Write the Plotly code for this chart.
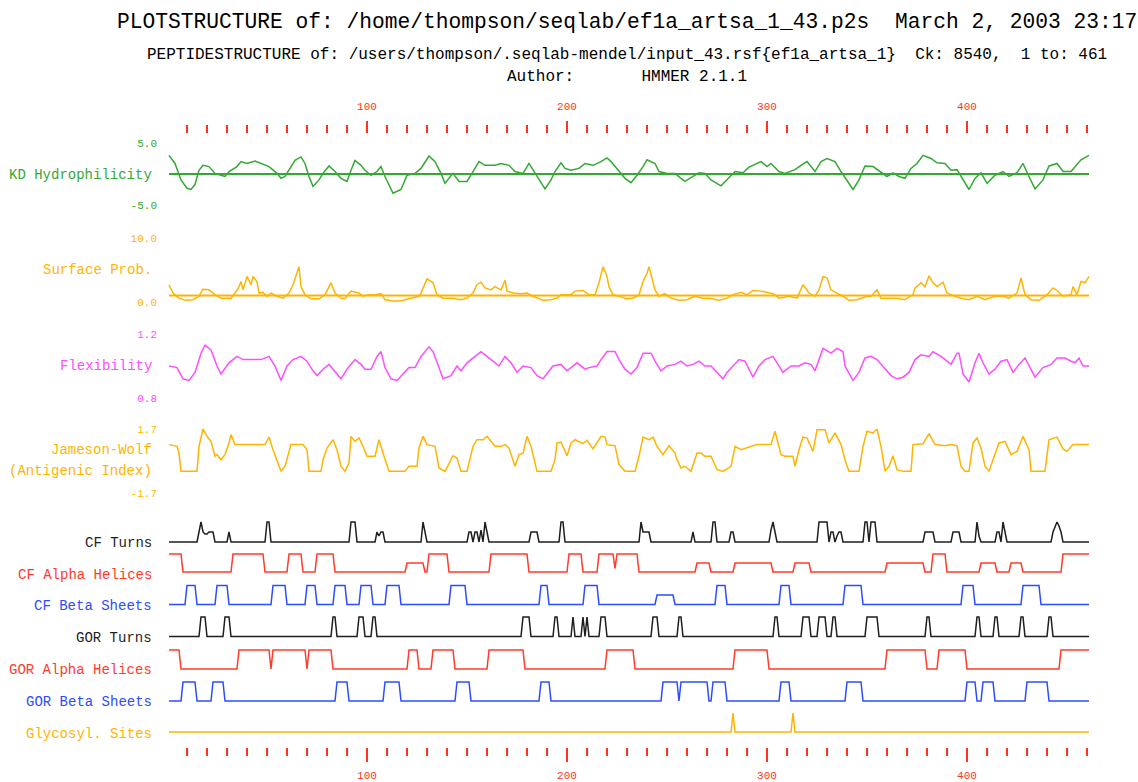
import plotly.graph_objects as go

W, H = 1138, 782
N_RES = 461

# ---------------- data ----------------
kd_res = [1, 4, 7, 10, 12, 14, 16, 18, 21, 24, 27, 29, 31, 35, 37, 40, 44, 47, 51, 55, 57, 59, 62, 64, 67, 69, 71, 73,
          76, 78, 81, 84, 87, 90, 92, 94, 97, 99, 102, 105, 107, 109, 113, 117, 120, 124, 127, 131, 134, 137, 139, 143,
          146, 150, 153, 156, 159, 164, 167, 171, 174, 178, 181, 184, 187, 189, 192, 194, 197, 199, 202, 206, 209, 213,
          217, 220, 222, 226, 229, 232, 235, 238, 240, 244, 246, 250, 254, 257, 259, 263, 266, 269, 272, 277, 280, 284,
          288, 291, 297, 300, 302, 306, 309, 314, 317, 320, 324, 327, 330, 334, 337, 340, 343, 346, 349, 353, 357, 360,
          363, 366, 369, 372, 375, 378, 382, 385, 389, 392, 395, 397, 401, 404, 407, 410, 414, 418, 421, 425, 428, 431,
          434, 438, 441, 445, 448, 452, 454, 457, 461]
kd_val = [3.0, 1.7, -0.95, -2.3, -2.5, -1.7, 0.6, 1.4, 1.2, 0.1, -0.2, -0.4, 0.4, 1.2, 2.0, 1.7, 2.1, 1.7, 1.2, 0.1,
          -0.7, -0.4, 1.2, 2.2, 2.75, 1.7, -0.4, -2.0, -0.95, 0.1, 1.3, 0.4, -0.7, -1.2, 0.6, 2.2, 1.4, 0.6, -0.2, 0.4,
          1.2, -0.4, -3.1, -2.5, -0.2, 0.1, 0.9, 2.9, 2.0, 0.1, -1.5, 0.1, -1.2, -1.2, 0.4, 2.0, 1.4, 1.4, 1.7, 1.4, 0.4,
          0.1, 1.7, 0.1, -1.5, -2.4, -0.95, 0.4, 1.8, 0.9, 0.6, 0.9, 1.7, 1.4, 2.0, 2.6, 2.0, 0.4, -0.7, -1.4, -0.2, 1.2,
          2.3, 1.7, 0.4, 0.1, 0.1, -0.7, -1.2, -0.4, 0.2, 0.1, -0.95, -1.9, -0.95, 0.4, 0.2, 1.1, 2.0, 1.2, 1.7, 0.4,
          0.1, 0.7, 1.4, 2.0, 0.4, 2.0, 2.5, 2.0, 0.4, -0.95, -2.5, -0.95, 1.3, 1.2, 0.2, -0.4, 0.2, -0.4, -0.7, 0.9,
          1.7, 3.0, 2.5, 1.8, 1.7, 0.6, 0.7, -0.4, -2.5, -0.7, 0.2, -1.5, -0.2, 0.4, -0.4, 0.2, 1.7, -0.4, -2.4, -0.95,
          1.3, 1.7, 0.4, 0.4, 1.2, 2.3, 3.0]

surf_res = [1, 3, 6, 9, 13, 16, 18, 21, 24, 27, 32, 34, 36, 37, 38, 40, 42, 43, 45, 46, 48, 50, 52, 55, 58, 61, 63, 64,
            66, 67, 69, 72, 76, 79, 81, 82, 84, 87, 89, 92, 96, 98, 101, 104, 107, 109, 114, 118, 122, 126, 127, 130,
            133, 135, 138, 143, 147, 150, 153, 155, 157, 159, 162, 164, 167, 169, 170, 173, 177, 180, 183, 186, 188,
            192, 195, 197, 202, 204, 208, 211, 214, 216, 218, 220, 221, 223, 226, 230, 233, 236, 238, 240, 241, 243,
            244, 246, 249, 252, 256, 260, 264, 268, 271, 276, 280, 283, 287, 290, 293, 297, 303, 306, 311, 315, 318,
            321, 324, 326, 328, 330, 332, 335, 338, 341, 345, 350, 352, 355, 357, 362, 365, 369, 373, 374, 377, 379,
            381, 383, 385, 388, 390, 394, 397, 401, 405, 409, 414, 418, 421, 425, 427, 429, 432, 436, 440, 443, 445,
            448, 452, 453, 455, 457, 459, 461]
surf_val = [2.7, 1.4, 0.6, 0.26, 0.36, 0.9, 2.0, 1.9, 1.15, 0.6, 0.6, 1.4, 2.4, 3.2, 1.9, 4.0, 2.7, 4.0, 3.2, 1.4, 1.5,
            0.9, 1.4, 0.9, 0.6, 1.4, 2.7, 3.75, 5.5, 2.4, 1.15, 0.5, 0.5, 1.15, 2.4, 3.0, 1.4, 0.6, 0.5, 1.7, 1.4, 0.9,
            1.15, 1.15, 1.3, 0.36, 0.1, 0.26, 0.6, 0.9, 1.4, 3.6, 3.0, 1.15, 0.6, 0.6, 0.36, 0.6, 1.4, 2.7, 3.1, 2.2,
            1.9, 2.4, 1.9, 3.4, 1.7, 1.4, 1.3, 1.4, 0.9, 0.5, 0.26, 0.36, 0.6, 1.15, 1.15, 1.7, 1.8, 1.15, 1.15, 3.0,
            5.5, 4.0, 2.4, 1.15, 0.9, 0.5, 0.6, 1.15, 3.2, 4.5, 5.5, 3.2, 1.9, 0.9, 1.3, 0.6, 0.26, 0.36, 0.9, 0.6, 0.6,
            0.26, 0.6, 1.15, 1.5, 1.15, 1.8, 1.7, 1.3, 0.6, 0.9, 0.6, 2.7, 1.4, 0.9, 1.9, 4.0, 3.75, 1.9, 1.4, 0.9,
            0.26, 0.36, 0.9, 0.9, 1.9, 0.6, 0.6, 0.6, 0.36, 1.15, 2.2, 3.0, 2.4, 4.1, 3.0, 2.4, 3.1, 1.4, 0.9, 0.6,
            0.36, 0.9, 0.36, 0.9, 0.9, 0.6, 1.4, 3.75, 1.15, 0.36, 0.26, 1.15, 2.2, 1.8, 0.9, 1.15, 2.4, 1.15, 3.2,
            3.0, 4.0]

flex_res = [1, 5, 8, 11, 14, 17, 19, 22, 25, 27, 31, 35, 38, 41, 45, 47, 51, 54, 57, 60, 63, 67, 70, 73, 75, 78, 81, 83,
            87, 90, 94, 97, 99, 102, 105, 107, 109, 112, 115, 118, 121, 124, 127, 131, 133, 136, 138, 142, 145, 147,
            150, 154, 157, 160, 163, 166, 169, 172, 175, 178, 182, 185, 188, 190, 193, 197, 200, 205, 209, 211, 215,
            217, 220, 224, 226, 229, 232, 235, 238, 242, 244, 247, 250, 254, 257, 260, 263, 266, 269, 272, 275, 278,
            280, 283, 286, 289, 291, 293, 296, 299, 303, 305, 308, 312, 316, 319, 322, 324, 326, 328, 332, 335, 338,
            339, 343, 346, 349, 352, 355, 358, 362, 365, 368, 371, 374, 377, 381, 383, 387, 392, 395, 396, 398, 401,
            404, 406, 408, 411, 414, 417, 420, 423, 426, 429, 432, 434, 438, 442, 445, 449, 452, 454, 456, 458, 461]
flex_val = [1.0, 0.99, 0.92, 0.91, 0.96, 1.08, 1.13, 1.10, 1.0, 0.95, 1.02, 1.06, 1.04, 1.04, 1.04, 1.04, 1.06, 1.0,
            0.91, 1.0, 1.04, 1.06, 1.03, 0.97, 0.94, 0.98, 1.01, 0.98, 0.92, 0.98, 1.04, 1.01, 0.98, 0.98, 1.06, 1.09,
            0.99, 0.92, 0.91, 0.95, 0.99, 0.99, 1.06, 1.12, 1.09, 0.99, 0.92, 0.94, 1.0, 0.97, 1.02, 1.06, 1.09, 1.06,
            1.03, 1.0, 1.06, 1.02, 0.96, 1.0, 0.99, 0.94, 0.92, 0.95, 1.0, 1.01, 0.97, 1.02, 0.98, 0.99, 1.0, 1.04,
            1.09, 1.09, 1.04, 0.98, 0.95, 0.99, 1.08, 1.08, 1.03, 0.97, 1.0, 1.01, 1.03, 1.0, 1.01, 1.03, 1.0, 1.0,
            0.96, 0.92, 0.96, 1.0, 1.04, 1.03, 0.98, 0.93, 1.0, 1.04, 1.06, 1.02, 0.96, 1.0, 1.0, 1.02, 1.01, 0.97,
            1.04, 1.11, 1.08, 1.11, 1.09, 1.0, 0.91, 0.96, 1.05, 1.06, 1.04, 1.0, 0.94, 0.92, 0.93, 0.96, 1.04, 1.07,
            1.06, 1.09, 1.06, 1.01, 1.08, 1.08, 0.95, 0.9, 1.02, 1.08, 1.02, 0.95, 0.98, 1.03, 1.04, 0.96, 1.01, 1.05,
            0.98, 0.93, 0.99, 1.01, 1.05, 1.05, 1.03, 1.02, 1.05, 1.0, 1.0]

jw_res = [1, 5, 6, 7, 15, 16, 18, 20, 22, 24, 25, 27, 29, 31, 32, 34, 49, 51, 53, 56, 57, 59, 61, 62, 68, 70, 71, 77,
          78, 80, 83, 85, 87, 89, 91, 92, 94, 96, 98, 100, 104, 106, 108, 111, 119, 121, 125, 126, 128, 130, 134, 136,
          139, 141, 143, 145, 147, 150, 153, 155, 158, 160, 164, 167, 169, 171, 174, 176, 178, 180, 182, 185, 192,
          194, 195, 197, 200, 202, 204, 208, 210, 213, 217, 219, 220, 224, 226, 229, 234, 236, 238, 241, 243, 245,
          248, 251, 254, 255, 257, 259, 262, 265, 267, 269, 272, 275, 278, 282, 284, 287, 290, 295, 302, 304, 307,
          309, 313, 314, 316, 318, 320, 323, 325, 329, 331, 334, 337, 339, 341, 346, 348, 350, 353, 355, 357, 359,
          361, 363, 365, 368, 372, 373, 378, 381, 384, 389, 392, 395, 397, 399, 401, 403, 405, 407, 409, 411, 413,
          416, 419, 422, 425, 428, 431, 432, 439, 441, 445, 448, 450, 453, 461]
jw_val = [0.87, 0.78, 0.42, -0.55, -0.55, 0.78, 1.7, 1.31, 1.04, 0.25, 0.34, 0.07, 0.34, 0.96, 1.4, 0.87, 0.87, 1.27,
          0.6, -0.28, -0.55, -0.28, 0.42, 0.87, 0.87, 0.6, -0.55, -0.55, 0.07, 0.69, 1.13, 0.6, -0.28, -0.55, -0.1,
          1.31, 1.04, 1.22, 0.78, 0.25, 0.25, 1.13, 0.42, -0.55, -0.55, -0.28, -0.28, 0.69, 1.31, 0.87, 0.78, -0.37,
          -0.55, -0.1, 0.28, 0.16, -0.55, -0.55, 0.78, 1.13, 1.13, 1.31, 0.78, 0.78, 0.87, 0.69, -0.28, 0.34, 0.42,
          1.31, 0.78, -0.55, -0.55, 0.07, 0.96, 1.0, 0.28, 0.96, 1.13, 0.92, 1.1, 0.64, 1.31, 1.27, 0.87, 0.81, -0.19,
          -0.55, -0.55, 0.25, 1.27, 1.13, 1.27, 0.78, 0.34, 0.81, 0.42, 0.07, -0.37, -0.28, -0.55, 0.42, 0.42, 0.25,
          0.25, -0.46, -0.55, -0.28, 0.78, 0.6, 0.69, 0.87, 0.87, 1.58, 0.34, 0.25, 0.25, -0.28, 0.6, 1.27, 1.22, 0.51,
          1.66, 1.66, 0.96, 1.49, 0.87, 0.07, -0.55, -0.55, 0.78, 1.58, 1.49, 1.7, 0.78, -0.55, -0.28, 0.28, -0.46,
          -0.55, -0.55, 0.87, 0.92, 1.45, 0.87, 0.81, 0.87, 0.81, -0.28, -0.55, -0.55, 0.96, 1.22, 0.69, -0.28, -0.55,
          0.07, 0.96, 1.04, 0.34, 0.51, 1.31, 0.6, -0.55, -0.55, 1.13, 1.27, 0.64, 0.51, 0.87, 0.87]

# run-length segments (start residue, end residue, level 0..1)
cf_turns = [(16, 16, 0.5), (17, 17, 1), (18, 18, 0.5), (19, 20, 0.4), (21, 23, 0.5), (31, 31, 0.5), (50, 51, 1),
            (92, 94, 1), (105, 105, 0.5), (106, 106, 0.3), (107, 108, 0.5), (128, 128, 1), (129, 129, 0.5),
            (151, 152, 0.5), (154, 155, 0.5), (157, 157, 0.6), (159, 159, 1), (160, 160, 0.5), (182, 185, 0.5),
            (197, 198, 1), (237, 237, 1), (238, 241, 0.5), (263, 263, 0.5), (273, 274, 1), (282, 283, 0.5),
            (302, 302, 0.6), (303, 303, 1), (304, 304, 0.5), (326, 330, 1), (332, 333, 0.5), (335, 335, 0.3),
            (336, 337, 0.5), (349, 350, 1), (352, 354, 1), (379, 383, 0.5), (393, 396, 0.5), (405, 405, 1),
            (406, 406, 0.3), (415, 416, 0.5), (418, 418, 1), (419, 419, 0.5), (443, 443, 0.5), (444, 444, 0.8),
            (445, 445, 1), (446, 446, 0.8), (447, 447, 0.5)]
cf_alpha = [(1, 7, 1), (33, 48, 1), (61, 67, 1), (75, 83, 1), (120, 128, 0.5), (131, 140, 1), (162, 180, 1),
            (201, 207, 1), (216, 223, 1), (224, 224, 0.2), (225, 235, 1), (265, 271, 0.5), (284, 302, 0.5),
            (314, 321, 0.5), (360, 378, 0.5), (383, 389, 1), (407, 414, 0.5), (422, 427, 0.5), (448, 461, 1)]
cf_beta = [(10, 14, 1), (25, 30, 1), (53, 59, 1), (70, 74, 1), (84, 89, 1), (97, 102, 1), (110, 116, 1),
           (142, 149, 1), (187, 190, 1), (209, 215, 1), (245, 253, 0.5), (275, 279, 1), (307, 311, 1), (339, 347, 1),
           (398, 403, 1), (428, 436, 1)]
gor_turns = [(17, 19, 1), (29, 31, 1), (83, 84, 1), (96, 98, 1), (103, 104, 1), (178, 181, 1), (194, 195, 1),
             (203, 203, 1), (208, 208, 1), (210, 210, 1), (217, 219, 1), (243, 245, 1), (256, 257, 1), (304, 305, 1),
             (318, 321, 1), (326, 329, 1), (333, 334, 1), (350, 355, 1), (380, 381, 1), (405, 406, 1), (414, 415, 1),
             (427, 428, 1), (441, 442, 1)]
gor_alpha = [(1, 6, 1), (36, 51, 1), (53, 69, 1), (71, 82, 1), (121, 125, 1), (133, 143, 1), (161, 178, 1),
             (220, 233, 1), (284, 300, 1), (360, 379, 1), (386, 399, 1), (447, 461, 1)]
gor_beta = [(8, 14, 1), (23, 28, 1), (85, 90, 1), (109, 116, 1), (145, 151, 1), (187, 191, 1), (248, 255, 1),
            (257, 270, 1), (273, 279, 1), (307, 311, 1), (340, 347, 1), (400, 404, 1), (408, 413, 1), (430, 440, 1)]
glyco_sites = [283, 313]

kd_baseline = 0.0
surface_threshold = 1.0

ruler_major = [100, 200, 300, 400]
ruler_minor = [10, 20, 30, 40, 50, 60, 70, 80, 90, 110, 120, 130, 140, 150, 160, 170, 180, 190, 210, 220, 230, 240,
               250, 260, 270, 280, 290, 310, 320, 330, 340, 350, 360, 370, 380, 390, 410, 420, 430, 440, 450, 460]

# ---------------- styling ----------------
GREEN = "#33a833"
ORANGE = "#ffb400"
MAGENTA = "#ff4dff"
RED = "#ff3b2b"
BLUE = "#2b4dff"
BLACK = "#1e1e1e"
RULER = "#ff3322"
MONO = "Liberation Mono"


def expand(segments):
    lv = [0.0] * N_RES
    for a, b, h in segments:
        for r in range(a, b + 1):
            lv[r - 1] = h
    return list(range(1, N_RES + 1)), lv


def axis_map(v_top, px_top, v_bot, px_bot, pad=6):
    scale = (px_bot - px_top) / (v_top - v_bot)
    rng = [v_bot - pad / scale, v_top + pad / scale]
    dom = [1 - (px_bot + pad) / H, 1 - (px_top - pad) / H]
    return dom, rng


def py(px):
    return 1 - px / H


fig = go.Figure()
layout = dict(width=W, height=H, margin=dict(l=0, r=0, t=0, b=0), paper_bgcolor="white",
              plot_bgcolor="rgba(0,0,0,0)", showlegend=False, hovermode=False)

# continuous tracks
tracks = [
    ("y", kd_res, kd_val, GREEN, 5.0, 143, -5.0, 205, "5.0", "-5.0"),
    ("y2", surf_res, surf_val, ORANGE, 10.0, 238, 0.0, 302, "10.0", "0.0"),
    ("y3", flex_res, flex_val, MAGENTA, 1.2, 334, 0.8, 398, "1.2", "0.8"),
    ("y4", jw_res, jw_val, ORANGE, 1.7, 429, -1.7, 493, "1.7", "-1.7"),
]
for name, xs, ys, col, vt, pt, vb, pb, lt, lb in tracks:
    dom, rng = axis_map(vt, pt, vb, pb)
    key = "yaxis" if name == "y" else "yaxis" + name[1:]
    layout[key] = dict(domain=dom, range=rng, anchor="free", position=157 / W, showgrid=False, zeroline=False,
                       showline=False, ticks="", tickvals=[vt, vb], ticktext=[lt, lb],
                       tickfont=dict(family=MONO, size=11, color=col))
    fig.add_trace(go.Scatter(x=xs, y=ys, mode="lines", line=dict(color=col, width=1.5), yaxis=name, xaxis="x"))

fig.add_trace(go.Scatter(x=[1, N_RES], y=[kd_baseline, kd_baseline], mode="lines",
                         line=dict(color=GREEN, width=2), yaxis="y", xaxis="x"))
fig.add_trace(go.Scatter(x=[1, N_RES], y=[surface_threshold, surface_threshold], mode="lines",
                         line=dict(color=ORANGE, width=2), yaxis="y2", xaxis="x"))

# binary tracks
glyco_segments = [(s, s, 1) for s in glyco_sites]
binary = [
    ("y5", cf_turns, BLACK, 522, 542),
    ("y6", cf_alpha, RED, 554, 572),
    ("y7", cf_beta, BLUE, 585.5, 604.5),
    ("y8", gor_turns, BLACK, 617, 636.5),
    ("y9", gor_alpha, RED, 650, 669),
    ("y10", gor_beta, BLUE, 682, 701),
    ("y11", glyco_segments, ORANGE, 713, 732),
]
for name, segs, col, ptop, pbot in binary:
    dom, rng = axis_map(1.0, ptop, 0.0, pbot)
    layout["yaxis" + name[1:]] = dict(domain=dom, range=rng, anchor="free", position=157 / W, showgrid=False,
                                      zeroline=False, showline=False, ticks="", showticklabels=False)
    xs, ys = expand(segs)
    fig.add_trace(go.Scatter(x=xs, y=ys, mode="lines", line=dict(color=col, width=1.5), yaxis=name, xaxis="x"))

# rulers (top and bottom)
xrange_ = [-83.5, 485.5]
common_x = dict(range=xrange_, domain=[0, 1], showgrid=False, zeroline=False, showline=False,
                tickmode="array", tickvals=ruler_major, ticktext=[str(v) for v in ruler_major],
                ticks="outside", ticklen=14, tickwidth=1.5, tickcolor=RULER,
                tickfont=dict(family=MONO, size=11, color=RULER), ticklabelstandoff=4,
                minor=dict(tickmode="array", tickvals=ruler_minor, ticks="outside", ticklen=8, tickwidth=1.5,
                           tickcolor=RULER, showgrid=False))
layout["xaxis"] = dict(common_x, anchor="free", position=py(747), side="bottom")
layout["xaxis2"] = dict(common_x, anchor="free", position=py(133), side="top", overlaying="x", ticklen=12,
                        ticklabelstandoff=7)
fig.add_trace(go.Scatter(x=[], y=[], xaxis="x2", yaxis="y11", mode="lines"))

# texts
ann = []
ann.append(dict(text="PLOTSTRUCTURE of: /home/thompson/seqlab/ef1a_artsa_1_43.p2s\u00a0\u00a0March 2, 2003 23:17",
                x=627 / W, y=py(22), font=dict(family=MONO, size=21.25, color="black")))
ann.append(dict(text="PEPTIDESTRUCTURE of: /users/thompson/.seqlab-mendel/input_43.rsf{ef1a_artsa_1}\u00a0\u00a0Ck: 8540,\u00a0\u00a01 to: 461",
                x=627 / W, y=py(55), font=dict(family=MONO, size=16, color="black")))
ann.append(dict(text="Author:" + "\u00a0" * 7 + "HMMER 2.1.1",
                x=627 / W, y=py(77), font=dict(family=MONO, size=16, color="black")))
for a in ann:
    a.update(xref="paper", yref="paper", xanchor="center", yanchor="middle", showarrow=False)

labels = [
    ("KD Hydrophilicity", 175, GREEN),
    ("Surface Prob.", 270, ORANGE),
    ("Flexibility", 366, MAGENTA),
    ("Jameson-Wolf", 450, ORANGE),
    ("(Antigenic Index)", 471, ORANGE),
    ("CF Turns", 543, BLACK),
    ("CF Alpha Helices", 575, RED),
    ("CF Beta Sheets", 606, BLUE),
    ("GOR Turns", 638, BLACK),
    ("GOR Alpha Helices", 670, RED),
    ("GOR Beta Sheets", 702, BLUE),
    ("Glycosyl. Sites", 734, ORANGE),
]
for txt, ypx, col in labels:
    ann.append(dict(text=txt, x=154 / W, y=py(ypx), xref="paper", yref="paper", xanchor="right",
                    yanchor="middle", showarrow=False, font=dict(family=MONO, size=14, color=col)))

layout["annotations"] = ann
fig.update_layout(**layout)
fig.write_html("out.html")
